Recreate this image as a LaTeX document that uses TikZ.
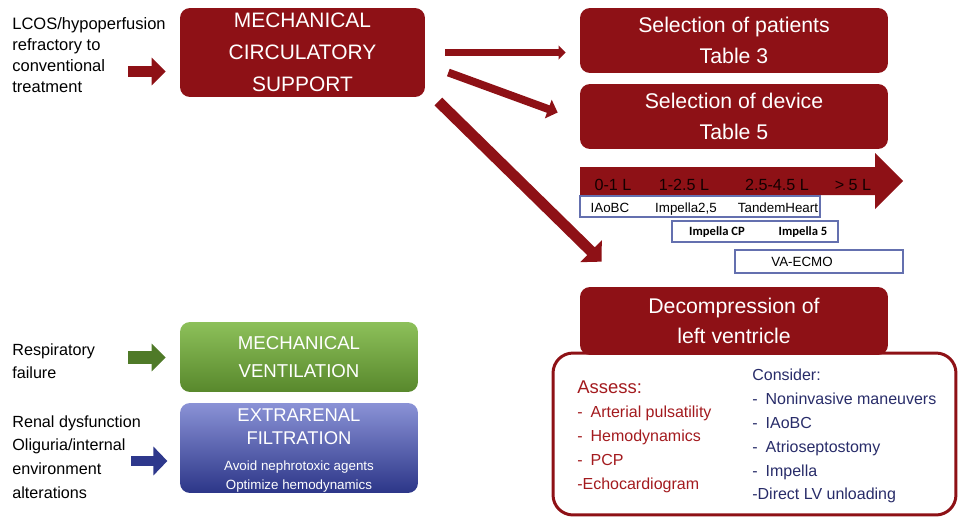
\documentclass[tikz,border=0pt]{standalone}
\usepackage{fontspec}
\setmainfont{Liberation Sans}
\newfontfamily\calibrifont{Carlito}
\usetikzlibrary{calc,arrows.meta}
\definecolor{mcsred}{RGB}{142,17,22}
\definecolor{textred}{RGB}{163,26,30}
\definecolor{navytext}{RGB}{40,44,105}
\definecolor{rangeline}{RGB}{100,112,175}
\definecolor{ventgreen}{RGB}{79,122,40}
\definecolor{venttop}{RGB}{141,192,90}
\definecolor{ventbottom}{RGB}{88,136,44}
\definecolor{filtblue}{RGB}{46,56,140}
\definecolor{filttop}{RGB}{138,146,214}
\definecolor{filtmid}{RGB}{86,100,200}
\definecolor{filtbottom}{RGB}{44,54,136}
\definecolor{flowlabel}{RGB}{20,0,0}

\begin{document}
\begin{tikzpicture}[x=0.02cm,y=-0.02cm,
    redbox/.style={fill=mcsred,rounded corners=0.2cm,text=white,align=center,inner sep=0pt},
    sidetext/.style={anchor=north west,align=left,inner sep=0pt},
    rangebox/.style={draw=rangeline,line width=0.8pt,inner sep=0pt},
    rangetext/.style={anchor=base,inner sep=0pt,text=black,font=\fontsize{7.6}{9}\selectfont},
    flowtext/.style={anchor=base,inner sep=0pt,text=flowlabel,font=\fontsize{9.2}{10}\selectfont},
    arrowhead/.style 2 args={-{Triangle[length=#1,width=#2]}}]
    \useasboundingbox (0,0) rectangle (958,518);

    % left column
    \node[sidetext,font=\fontsize{9.4}{11.9}\selectfont] at (12,17) (lcos) {LCOS/hypoperfusion\\refractory to\\conventional\\treatment};
    \node[sidetext,font=\fontsize{9.2}{13}\selectfont] at (12,343.5) (resp) {Respiratory\\failure};
    \node[sidetext,font=\fontsize{9.2}{13.6}\selectfont] at (12,415) (renal) {Renal dysfunction\\Oliguria/internal\\environment\\alterations};

    \node[redbox,minimum width=4.9cm,minimum height=1.78cm,font=\fontsize{11.9}{18.1}\selectfont] at (302.5,52.5) (mcs) {MECHANICAL\\CIRCULATORY\\SUPPORT};
    \node[rounded corners=0.2cm,minimum width=4.76cm,minimum height=1.4cm,top color=venttop,bottom color=ventbottom,text=white,align=center,inner sep=0pt,font=\fontsize{10.6}{15.9}\selectfont] at (299,357) (vent) {MECHANICAL\\VENTILATION};
    \node[rounded corners=0.2cm,minimum width=4.76cm,minimum height=1.8cm,top color=filttop,middle color=filtmid,bottom color=filtbottom,inner sep=0pt] at (299,448) (filt) {};
    \node[text=white,align=center,inner sep=0pt,font=\fontsize{10.5}{13}\selectfont] at (299,426.5) (filttitle) {EXTRARENAL\\FILTRATION};
    \node[text=white,align=center,inner sep=0pt,font=\fontsize{7.6}{10.8}\selectfont] at (299,477) (filtnote) {Avoid nephrotoxic agents\\Optimize hemodynamics};

    % right column
    \node[redbox,minimum width=6.16cm,minimum height=1.3cm,font=\fontsize{12.1}{17.6}\selectfont] at (734,40.5) (pat) {Selection of patients\\Table 3};
    \node[redbox,minimum width=6.16cm,minimum height=1.3cm,font=\fontsize{12.1}{17.6}\selectfont] at (734,116.5) (dev) {Selection of device\\Table 5};

    \fill[mcsred] (580,167) -- (875,167) -- (875,153) -- (903,181) -- (875,209) -- (875,195) -- (580,195) -- cycle;
    \node[flowtext] at (613,190.5) (f1) {0-1 L};
    \node[flowtext] at (684,190.5) (f2) {1-2.5 L};
    \node[flowtext] at (777,190.5) (f3) {2.5-4.5 L};
    \node[flowtext] at (853,190.5) (f4) {> 5 L};

    \node[rangebox,minimum width=4.8cm,minimum height=0.42cm] at (700,206.5) (range1) {};
    \node[rangebox,minimum width=3.32cm,minimum height=0.42cm] at (755,231.5) (range2) {};
    \node[rangebox,minimum width=3.36cm,minimum height=0.46cm] at (819,261.5) (range3) {};
    \node[rangetext] at (610,212) (iabp) {IAoBC};
    \node[rangetext] at (686,212) (imp25) {Impella2,5};
    \node[rangetext] at (778,212) (tandem) {TandemHeart};
    \node[rangetext,font=\calibrifont\bfseries\fontsize{7.2}{9}\selectfont] at (717,235.5) (impcp) {Impella CP};
    \node[rangetext,font=\calibrifont\bfseries\fontsize{7.2}{9}\selectfont] at (803,235.5) (imp5) {Impella 5};
    \node[rangetext] at (802,266) (ecmo) {VA-ECMO};

    \node[draw=mcsred,line width=1.7pt,rounded corners=0.4cm,minimum width=8.06cm,minimum height=3.24cm] at (754.5,434) (lvbox) {};
    \node[redbox,minimum width=6.16cm,minimum height=1.36cm,font=\fontsize{12.1}{17.3}\selectfont] at (734,321) (decomp) {Decompression of\\left ventricle};
    \node[sidetext,text=textred,font=\fontsize{9.1}{13.6}\selectfont] at (577,380.6) (assess) {{\fontsize{10.5}{13.6}\selectfont Assess:}\\-\enspace Arterial pulsatility\\-\enspace Hemodynamics\\-\enspace PCP\\-Echocardiogram};
    \node[sidetext,text=navytext,font=\fontsize{9.1}{13.6}\selectfont] at (752,368.5) (consider) {Consider:\\-\enspace Noninvasive maneuvers\\-\enspace IAoBC\\-\enspace Atrioseptostomy\\-\enspace Impella\\-Direct LV unloading};

    % connectors
    \coordinate (lcosout) at (128,71.5);
    \coordinate (respout) at (128,357.5);
    \coordinate (renalout) at (131,461);
    \draw[mcsred,line width=6.2pt,arrowhead={7.9pt}{15.3pt}] (lcosout) -- ([xshift=-8]lcosout -| mcs.west);
    \draw[ventgreen,line width=7.4pt,arrowhead={7.9pt}{15.3pt}] (respout) -- ([xshift=-8]respout -| vent.west);
    \draw[filtblue,line width=6pt,arrowhead={7.9pt}{15.9pt}] (renalout) -- ([xshift=-7]renalout -| filt.west);

    \coordinate (mcsout1) at ($(mcs.east)+(20,0)$);
    \coordinate (mcsout2) at ($(mcs.east)+(23,20)$);
    \coordinate (mcsout3) at ($(mcs.east)+(13,49)$);
    \coordinate (devin) at ($(dev.west)+(-22,-4)$);
    \coordinate (decompin) at ($(decomp.north west)+(22,-25)$);
    \draw[mcsred,line width=3.8pt,arrowhead={4pt}{7.9pt}] (mcsout1) -- ([xshift=-8]mcsout1 -| pat.west);
    \draw[mcsred,line width=4.5pt,arrowhead={5.7pt}{11pt}] (mcsout2) -- (devin);
    \draw[mcsred,line width=6.2pt,arrowhead={8.5pt}{17pt}] (mcsout3) -- (decompin);
\end{tikzpicture}
\end{document}
